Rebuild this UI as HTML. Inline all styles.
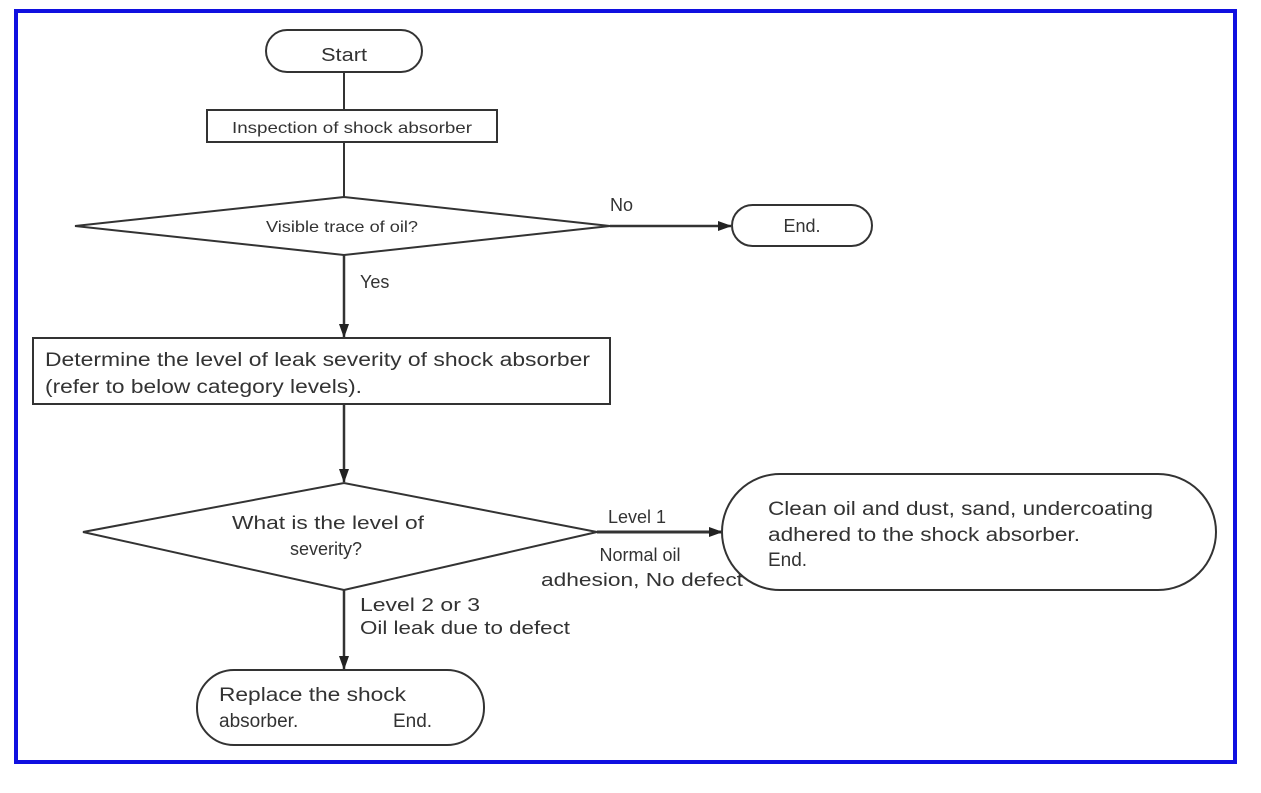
<!DOCTYPE html>
<html><head><meta charset="utf-8"><style>
html,body{margin:0;padding:0;background:#fff;}
svg{display:block;}
text{font-family:"Liberation Sans",Arial,sans-serif;fill:#333;}
</style></head><body>
<svg width="1261" height="793" viewBox="0 0 1261 793" xmlns="http://www.w3.org/2000/svg">
<defs><marker id="a" markerWidth="14" markerHeight="14" refX="13" refY="7" orient="auto" markerUnits="userSpaceOnUse"><path d="M0,2 L14,7 L0,12 Z" fill="#222"/></marker></defs>
<rect x="16" y="11" width="1219" height="751" fill="none" stroke="#1010e0" stroke-width="4"/>
<g stroke="#333" stroke-width="2" fill="#fff">
<line x1="344" y1="72" x2="344" y2="110"/>
<line x1="344" y1="142" x2="344" y2="197"/>
<line x1="344" y1="255" x2="344" y2="337" stroke-width="2.5" marker-end="url(#a)"/>
<line x1="610" y1="226" x2="731" y2="226" stroke-width="2.5" marker-end="url(#a)"/>
<line x1="344" y1="404" x2="344" y2="482" stroke-width="2.5" marker-end="url(#a)"/>
<line x1="597" y1="532" x2="722" y2="532" stroke-width="3" marker-end="url(#a)"/>
<line x1="344" y1="590" x2="344" y2="669" stroke-width="2.5" marker-end="url(#a)"/>
<rect x="266" y="30" width="156" height="42" rx="21"/>
<rect x="207" y="110" width="290" height="32"/>
<polygon points="75,226 344,197 610,226 344,255"/>
<rect x="732" y="205" width="140" height="41" rx="20.5"/>
<rect x="33" y="338" width="577" height="66"/>
<polygon points="83,532 344,483 597,532 344,590"/>
<rect x="722" y="474" width="494" height="116" rx="58"/>
<rect x="197" y="670" width="287" height="75" rx="37"/>
</g>
<text x="344" y="61" font-size="18" text-anchor="middle" textLength="46" lengthAdjust="spacingAndGlyphs">Start</text>
<text x="352" y="133" font-size="16" text-anchor="middle" textLength="240" lengthAdjust="spacingAndGlyphs">Inspection of shock absorber</text>
<text x="342" y="232" font-size="16" text-anchor="middle" textLength="152" lengthAdjust="spacingAndGlyphs">Visible trace of oil?</text>
<text x="610" y="211" font-size="18">No</text>
<text x="802" y="232" font-size="18" text-anchor="middle">End.</text>
<text x="360" y="288" font-size="18">Yes</text>
<text x="45" y="366" font-size="19" textLength="545" lengthAdjust="spacingAndGlyphs">Determine the level of leak severity of shock absorber</text>
<text x="45" y="393" font-size="19" textLength="317" lengthAdjust="spacingAndGlyphs">(refer to below category levels).</text>
<text x="328" y="529" font-size="18" text-anchor="middle" textLength="192" lengthAdjust="spacingAndGlyphs">What is the level of</text>
<text x="326" y="555" font-size="18" text-anchor="middle">severity?</text>
<text x="608" y="523" font-size="18">Level 1</text>
<text x="640" y="561" font-size="18" text-anchor="middle">Normal oil</text>
<text x="642" y="586" font-size="18" text-anchor="middle" textLength="202" lengthAdjust="spacingAndGlyphs">adhesion, No defect</text>
<text x="768" y="515" font-size="19" textLength="385" lengthAdjust="spacingAndGlyphs">Clean oil and dust, sand, undercoating</text>
<text x="768" y="541" font-size="19" textLength="312" lengthAdjust="spacingAndGlyphs">adhered to the shock absorber.</text>
<text x="768" y="566" font-size="19">End.</text>
<text x="360" y="611" font-size="18" textLength="120" lengthAdjust="spacingAndGlyphs">Level 2 or 3</text>
<text x="360" y="634" font-size="18" textLength="210" lengthAdjust="spacingAndGlyphs">Oil leak due to defect</text>
<text x="219" y="701" font-size="19" textLength="187" lengthAdjust="spacingAndGlyphs">Replace the shock</text>
<text x="219" y="727" font-size="19">absorber.</text>
<text x="393" y="727" font-size="19">End.</text>
</svg>
</body></html>
